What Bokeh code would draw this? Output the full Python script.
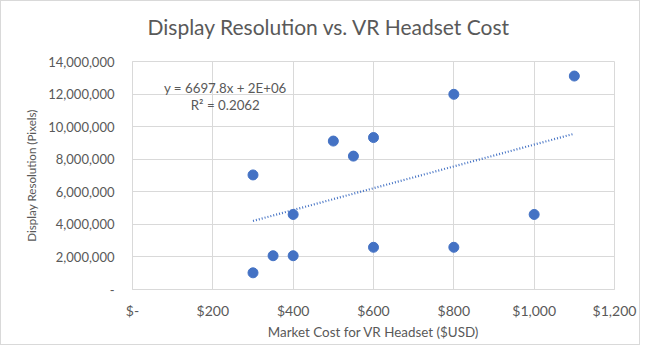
from bokeh.plotting import figure
from bokeh.models import FixedTicker, Range1d, Label, Title
from bokeh.embed import file_html
from bokeh.resources import INLINE

# Data
cost_usd = [300, 300, 350, 400, 400, 500, 550, 600, 600, 800, 800, 1000, 1100]
resolution_px = [7034880, 1024000, 2073600, 2073600, 4608000, 9114624, 8190000,
                 9331200, 2592000, 11985408, 2592000, 4608000, 13107200]

# Linear trendline as shown on the chart (y = 6697.8x + 2E+06)
trend_slope = 6697.8
trend_intercept = 2200000

x_ticks = [0, 200, 400, 600, 800, 1000, 1200]
x_tick_labels = ["$-", "$200", "$400", "$600", "$800", "$1,000", "$1,200"]
y_ticks = [0, 2000000, 4000000, 6000000, 8000000, 10000000, 12000000, 14000000]
y_tick_labels = ["-", "2,000,000", "4,000,000", "6,000,000", "8,000,000",
                 "10,000,000", "12,000,000", "14,000,000"]

title_text = "Display Resolution vs. VR Headset Cost"
x_title = "Market Cost for VR Headset ($USD)"
y_title = "Display Resolution (Pixels)"
eq_text = "y = 6697.8x + 2E+06"
r2_text = "R² = 0.2062"

FONT = "Lato"
GREY = "#595959"
BLUE = "#4472C4"
GRID = "#d9d9d9"

p = figure(width=640, height=345, output_backend="svg", toolbar_location=None,
           x_range=Range1d(0, 1200), y_range=Range1d(0, 14000000),
           min_border_left=131, min_border_right=27, min_border_top=60,
           min_border_bottom=57)
p.styles = {"border": "1px solid #d9d9d9", "box-sizing": "border-box"}

p.title.text = title_text
p.title.align = "left"
p.title.text_font = FONT
p.title.text_font_size = "21px"
p.title.text_font_style = "normal"
p.title.text_color = GREY
p.title.offset = 15
p.title.standoff = 4

# spacer between the title and the plot area
p.add_layout(Title(text=" ", text_font_size="1px", standoff=18), "above")

p.outline_line_color = GRID
p.outline_line_width = 1

for ax in (p.xaxis[0], p.yaxis[0]):
    ax.major_tick_line_color = None
    ax.minor_tick_line_color = None
    ax.major_tick_out = 0
    ax.major_tick_in = 0
    ax.axis_line_color = GRID
    ax.major_label_text_font = FONT
    ax.major_label_text_color = GREY
    ax.axis_label_text_font = FONT
    ax.axis_label_text_font_style = "normal"
    ax.axis_label_text_color = GREY

p.xaxis.major_label_text_font_size = "14px"
p.yaxis.major_label_text_font_size = "13px"
p.xaxis.ticker = FixedTicker(ticks=x_ticks)
p.xaxis.major_label_overrides = {t: l for t, l in zip(x_ticks, x_tick_labels)}
p.yaxis.ticker = FixedTicker(ticks=y_ticks)
p.yaxis.major_label_overrides = {t: l for t, l in zip(y_ticks, y_tick_labels)}
p.xaxis.axis_label = x_title
p.yaxis.axis_label = y_title
p.xaxis.axis_label_text_font_size = "13.4px"
p.yaxis.axis_label_text_font_size = "11.6px"
p.xaxis.major_label_standoff = 12
p.xaxis.axis_label_standoff = 2
p.yaxis.major_label_standoff = 18
p.yaxis.axis_label_standoff = 7

p.xgrid.grid_line_color = GRID
p.ygrid.grid_line_color = GRID
p.xgrid.grid_line_width = 1
p.ygrid.grid_line_width = 1

tx = [min(cost_usd), max(cost_usd)]
ty = [trend_slope * v + trend_intercept for v in tx]
p.line(tx, ty, line_color=BLUE, line_width=2.2, line_dash="1 2")

p.scatter(cost_usd, resolution_px, size=10, fill_color=BLUE, line_color=BLUE)

p.add_layout(Label(x=231, y=12400000, text=eq_text, text_font=FONT,
                   text_font_size="13.3px", text_color=GREY, text_align="center",
                   text_baseline="middle"))
p.add_layout(Label(x=231, y=11300000, text=r2_text, text_font=FONT,
                   text_font_size="13.3px", text_color=GREY, text_align="center",
                   text_baseline="middle"))

open("out.html", "w").write(file_html(p, INLINE))
